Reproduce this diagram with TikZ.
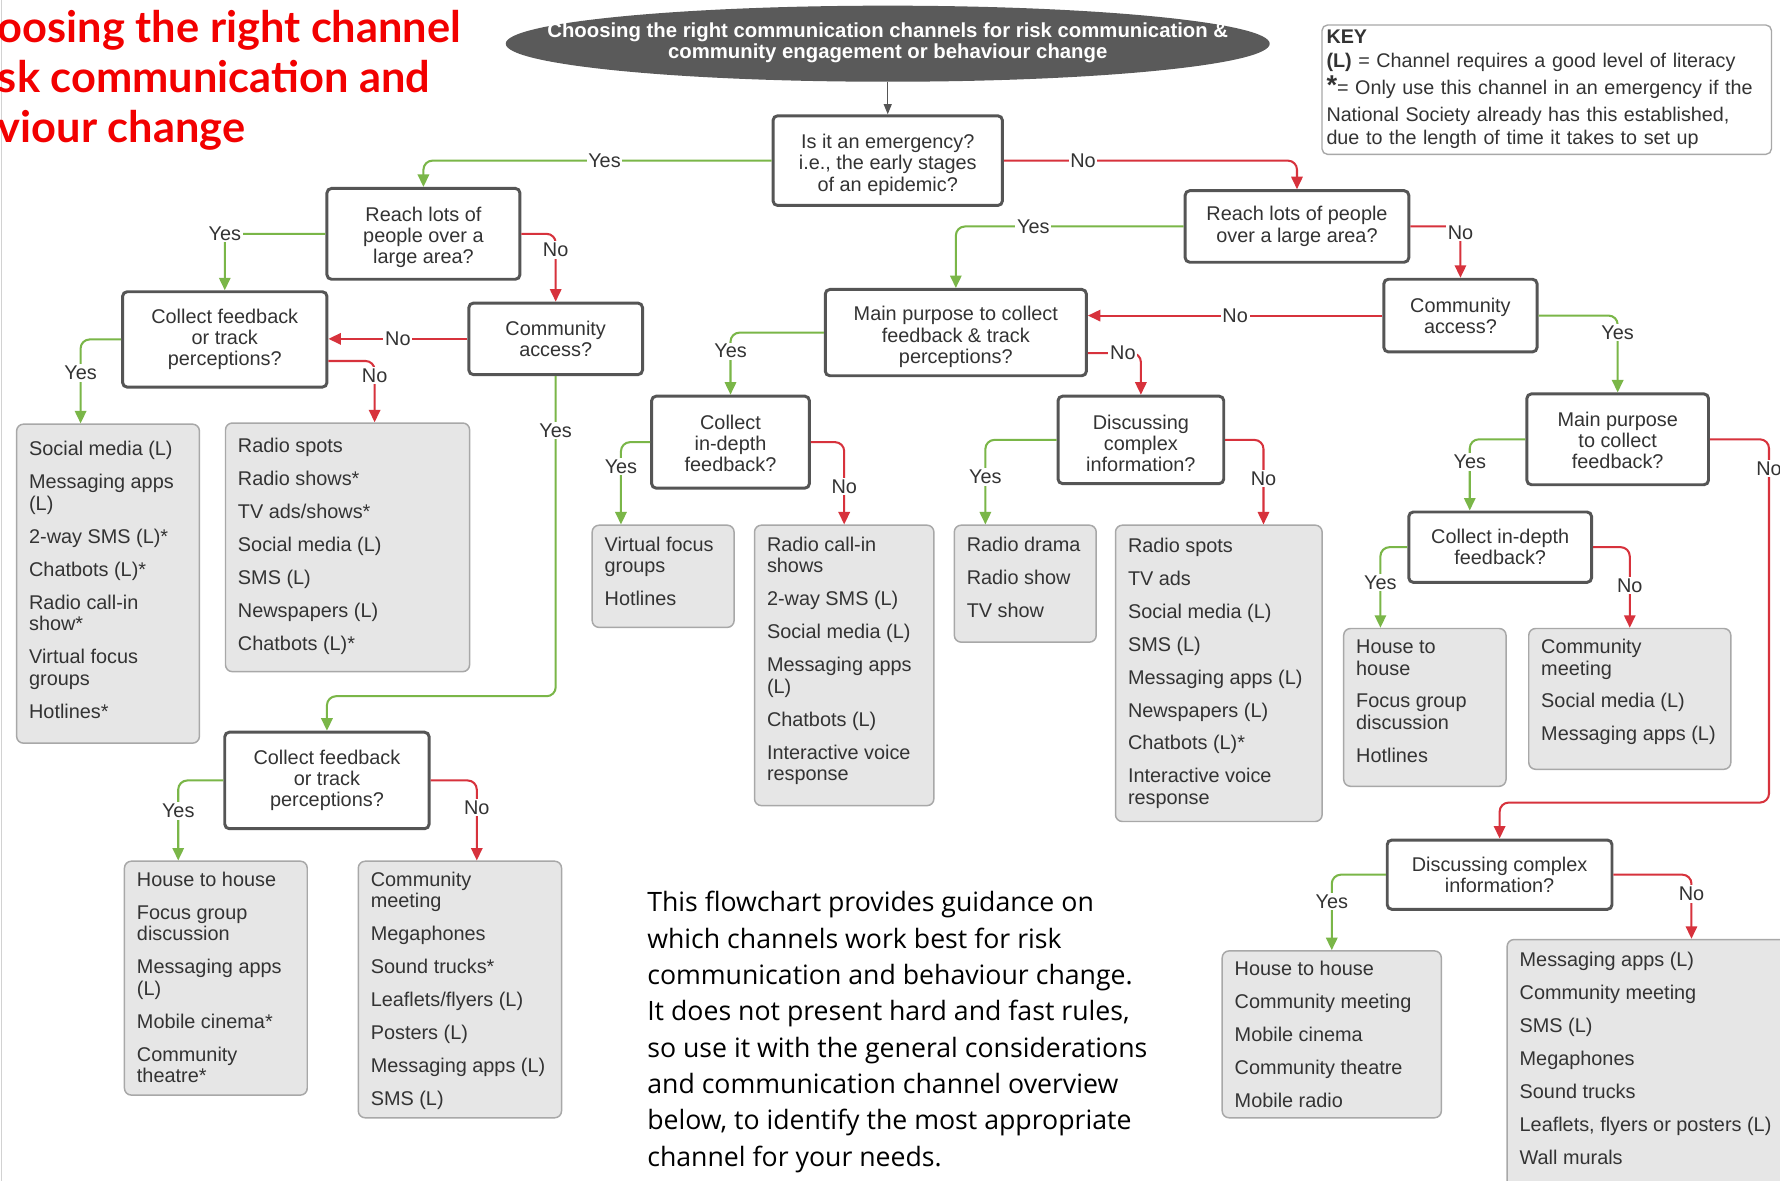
\documentclass[tikz,border=0pt]{standalone}
\usepackage{fontspec}
\setmainfont{Liberation Sans}
\newfontfamily\osans{Open Sans}
\newfontfamily\latofont{Lato}
\usetikzlibrary{arrows.meta,shapes.geometric}
\definecolor{ygreen}{HTML}{7AB648}
\definecolor{nred}{HTML}{D7323C}
\definecolor{qline}{HTML}{555555}
\definecolor{lline}{HTML}{A8A8A8}
\definecolor{lfill}{HTML}{E6E6E6}
\definecolor{txt}{HTML}{333333}
\definecolor{hdrfill}{HTML}{5A5A5A}
\definecolor{ttlred}{HTML}{F20000}
\newcommand\qfont{\fontsize{17.5}{18.7}\selectfont}
\newcommand\dn[1]{\rule{0pt}{#1pt}}
\newcommand\chanlist[4]{\begin{minipage}[c][#2pt][t]{#1pt}\raggedright\leftskip=11pt\fontsize{17.5}{19}\selectfont\setlength\parskip{10pt}\rule{0pt}{#3pt}#4\end{minipage}}
\tikzset{
  qbox/.style={draw=qline, line width=2.6pt, fill=white, rounded corners=4pt, align=center, text=txt, font=\qfont, inner sep=2pt},
  lst/.style={anchor=north west, inner sep=0pt, draw=lline, fill=lfill, line width=1.3pt, rounded corners=6pt, text=txt},
  yes/.style={draw=ygreen, line width=1.8pt, rounded corners=8pt, -{Triangle[length=11pt,width=10pt]}},
  no/.style={draw=nred, line width=1.8pt, rounded corners=8pt, -{Triangle[length=11pt,width=10pt]}},
  lab/.style={fill=white, inner sep=1.5pt, text=txt, font=\qfont, rounded corners=0pt},
}
\begin{document}
\begin{tikzpicture}[x=1pt,y=-1pt]
\useasboundingbox (0,0) rectangle (1568,1040);
\clip (0,0) rectangle (1568,1040);
\fill[white] (0,0) rectangle (1568,1040);
\draw[gray!35, line width=0.8pt] (1,0) -- (1,1040);

% title
\node[anchor=north west, inner sep=0pt, align=left, text=ttlred, font=\latofont\bfseries\fontsize{38.2}{44}\selectfont] (title) at (-2,9) {oosing the right channel\\sk communication and\\viour change};

% header
\node[ellipse, fill=hdrfill, minimum width=673pt, minimum height=67pt, inner sep=0pt, text=white, font=\bfseries\fontsize{17.9}{19}\selectfont] (hdr) at (782,38.5) {\makebox[0pt]{\raisebox{-2pt}{\begin{tabular}{@{}c@{}}Choosing the right communication channels for risk communication \&\\community engagement or behaviour change\end{tabular}}}};

% key
\node[draw=lline, line width=1.2pt, rounded corners=5pt, fill=white, align=left, text width=388pt, inner xsep=4pt, minimum height=114pt, text=txt, font=\fontsize{17.4}{21}\selectfont] (key) at (1362.5,79) {{\bfseries KEY}\\
{\bfseries (L)} = Channel requires a good level of literacy\\[3pt]
\smash{{\fontsize{24}{21}\selectfont\bfseries *}}= Only use this channel in an emergency if the\\[2pt]
National Society already has this established,\\
due to the length of time it takes to set up};

% questions
\node[qbox, minimum width=202pt, minimum height=79pt] (q1) at (782,141.5) {\dn{20}Is it an emergency?\\i.e., the early stages\\of an epidemic?};
\node[qbox, minimum width=170pt, minimum height=80pt] (q2) at (373,206) {\dn{18.5}Reach lots of\\people over a\\large area?};
\node[qbox, minimum width=197pt, minimum height=63pt] (q3) at (1142.5,199.5) {Reach lots of people\\over a large area?};
\node[qbox, minimum width=180pt, minimum height=84pt] (q4) at (198,299) {Collect feedback\\or track\\perceptions?};
\node[qbox, minimum width=153pt, minimum height=63pt] (q5) at (489.5,298.5) {Community\\access?};
\node[qbox, minimum width=230pt, minimum height=76pt] (q6) at (842,293) {\dn{20.5}Main purpose to collect\\feedback \& track\\perceptions?};
\node[qbox, minimum width=135pt, minimum height=64pt] (q7) at (1286.5,278) {Community\\access?};
\node[qbox, minimum width=180pt, minimum height=85pt] (q8) at (288,687.5) {Collect feedback\\or track\\perceptions?};
\node[qbox, minimum width=160pt, minimum height=80pt] (q9) at (1425,387) {\dn{15}Main purpose\\to collect\\feedback?};
\node[qbox, minimum width=139pt, minimum height=81pt] (q10) at (643.5,389.5) {\dn{15}Collect\\in-depth\\feedback?};
\node[qbox, minimum width=146pt, minimum height=77pt] (q11) at (1005,387.5) {\dn{19}Discussing\\complex\\information?};
\node[qbox, minimum width=161pt, minimum height=62pt] (q12) at (1321.5,482) {Collect in-depth\\feedback?};
\node[qbox, minimum width=198pt, minimum height=61pt] (q13) at (1321,770.5) {Discussing complex\\information?};

% channel lists
\node[lst] (l1) at (14,373) {\chanlist{161}{281}{28}{Social media (L)\par Messaging apps\\(L)\par 2-way SMS (L)*\par Chatbots (L)*\par Radio call-in\\show*\par Virtual focus\\groups\par Hotlines*}};
\node[lst] (l2) at (198,372) {\chanlist{215}{219}{26}{Radio spots\par Radio shows*\par TV ads/shows*\par Social media (L)\par SMS (L)\par Newspapers (L)\par Chatbots (L)*}};
\node[lst] (l3) at (109,758) {\chanlist{161}{206}{22}{House to house\par Focus group\\discussion\par Messaging apps\\(L)\par Mobile cinema*\par Community\\theatre*}};
\node[lst] (l4) at (315,758) {\chanlist{179}{226}{22}{Community\\meeting\par Megaphones\par Sound trucks*\par Leaflets/flyers (L)\par Posters (L)\par Messaging apps (L)\par SMS (L)}};
\node[lst] (l5) at (521,462) {\chanlist{125}{90}{23}{Virtual focus\\groups\par Hotlines}};
\node[lst] (l6) at (664,462) {\chanlist{158}{247}{23}{Radio call-in\\shows\par 2-way SMS (L)\par Social media (L)\par Messaging apps\\(L)\par Chatbots (L)\par Interactive voice\\response}};
\node[lst] (l7) at (840,462) {\chanlist{125}{103}{23}{Radio drama\par Radio show\par TV show}};
\node[lst] (l8) at (982,462) {\chanlist{182}{261}{24}{Radio spots\par TV ads\par Social media (L)\par SMS (L)\par Messaging apps (L)\par Newspapers (L)\par Chatbots (L)*\par Interactive voice\\response}};
\node[lst] (l9) at (1183,553) {\chanlist{143}{139}{22}{House to\\house\par Focus group\\discussion\par Hotlines}};
\node[lst] (l10) at (1346,553) {\chanlist{178}{124}{22}{Community\\meeting\par Social media (L)\par Messaging apps (L)}};
\node[lst] (l11) at (1076,837) {\chanlist{193}{147}{22}{House to house\par Community meeting\par Mobile cinema\par Community theatre\par Mobile radio}};
\node[lst] (l12) at (1327,827) {\chanlist{260}{230}{24}{Messaging apps (L)\par Community meeting\par SMS (L)\par Megaphones\par Sound trucks\par Leaflets, flyers or posters (L)\par Wall murals}};

% footer text
\node[anchor=north west, inner sep=0pt, align=left, font=\osans\fontsize{23.5}{32}\selectfont] (note) at (570,785) {This flowchart provides guidance on\\which channels work best for risk\\communication and behaviour change.\\It does not present hard and fast rules,\\so use it with the general considerations\\and communication channel overview\\below, to identify the most appropriate\\channel for your needs.};

% connectors
\draw[draw=qline, line width=1.2pt, -{Triangle[length=9pt,width=7pt]}] (hdr.south) -- (q1.north);
\draw[yes] (q1.west) -| node[lab, pos=0.24]{Yes} (q2.north);
\draw[no] (q1.east) -| node[lab, pos=0.135]{No} (q3.north);
\draw[yes] (q2.west) -| node[lab, pos=0.5]{Yes} (q4.north);
\draw[no] (q2.east) -| node[lab, pos=0.62]{No} (q5.north);
\draw[no] (q5.west) -- node[lab, pos=0.5]{No} (q5.west -| q4.east);
\draw[yes] (q5.south) -- node[lab, pos=0.17]{Yes} ++(0,282) -| (q8.north);
\draw[yes] (q4.west) -| node[lab, pos=0.70]{Yes} ([xshift=57pt]l1.north west);
\draw[no] ([yshift=-19pt]q4.east) -| node[lab, pos=0.62]{No} ([xshift=132pt]l2.north west);
\draw[yes] (q8.west) -| node[lab, pos=0.69]{Yes} ([xshift=48pt]l3.north west);
\draw[no] (q8.east) -| node[lab, pos=0.67]{No} ([xshift=105pt]l4.north west);
\draw[yes] (q3.west) -| node[lab, pos=0.33]{Yes} (q6.north);
\draw[no] (q3.east) -| node[lab, pos=0.56]{No} (q7.north);
\draw[no] (q7.west) -- node[lab, pos=0.5]{No} (q7.west -| q6.east);
\draw[yes] (q7.east) -| node[lab, pos=0.61]{Yes} (q9.north);
\draw[yes] (q6.west) -| node[lab, pos=0.65]{Yes} (q10.north);
\draw[no] ([yshift=-18pt]q6.east) -| node[lab, pos=0.33]{No} (q11.north);
\draw[yes] (q10.west) -| node[lab, pos=0.65]{Yes} ([xshift=26pt]l5.north west);
\draw[no] (q10.east) -| node[lab, pos=0.77]{No} (l6.north);
\draw[yes] (q11.west) -| node[lab, pos=0.72]{Yes} ([xshift=28pt]l7.north west);
\draw[no] (q11.east) -| node[lab, pos=0.73]{No} ([xshift=131pt]l8.north west);
\draw[yes] (q9.west) -| node[lab, pos=0.66]{Yes} ([xshift=55pt]q12.north west);
\draw[no] (q9.east) -- ++(52,0) -- node[lab, pos=0.08]{No} ++(0,320) -| (q13.north);
\draw[yes] (q12.west) -| node[lab, pos=0.72]{Yes} ([xshift=33pt]l9.north west);
\draw[no] (q12.east) -| node[lab, pos=0.74]{No} (l10.north);
\draw[yes] (q13.west) -| node[lab, pos=0.68]{Yes} (l11.north);
\draw[no] (q13.east) -| node[lab, pos=0.65]{No} ([xshift=163pt]l12.north west);
\end{tikzpicture}
\end{document}
